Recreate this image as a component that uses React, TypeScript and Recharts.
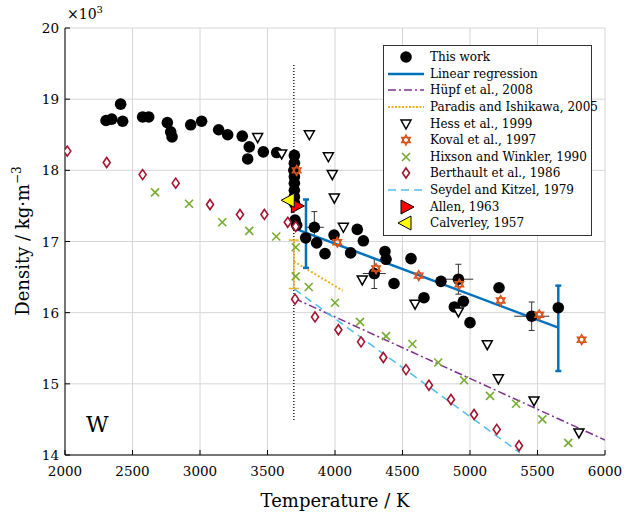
import React from 'react';
import { ComposedChart, Scatter, Line, XAxis, YAxis, CartesianGrid, ErrorBar, Legend } from 'recharts';

const FONT = 'DejaVu Serif';
const txt = { fontFamily: FONT };

// temperature (K) / density (x10^3 kg m^-3)
const thisWork = [
  { T: 2304, D: 18.7 }, { T: 2346, D: 18.72 }, { T: 2412, D: 18.93 }, { T: 2427, D: 18.69 },
  { T: 2575, D: 18.75 }, { T: 2620, D: 18.75 }, { T: 2758, D: 18.67 }, { T: 2783, D: 18.54 },
  { T: 2793, D: 18.47 }, { T: 2931, D: 18.64 }, { T: 3012, D: 18.69 }, { T: 3138, D: 18.57 },
  { T: 3205, D: 18.5 }, { T: 3313, D: 18.48 }, { T: 3365, D: 18.33 }, { T: 3353, D: 18.16 },
  { T: 3469, D: 18.26 }, { T: 3568, D: 18.25 }, { T: 3699, D: 18.21 }, { T: 3699, D: 18.1 },
  { T: 3695, D: 18.0 }, { T: 3699, D: 17.91 }, { T: 3699, D: 17.82 }, { T: 3699, D: 17.72 },
  { T: 3699, D: 17.63 }, { T: 3699, D: 17.54 }, { T: 3704, D: 17.3 }, { T: 3716, D: 17.23 },
  { T: 3783, D: 17.05 }, { T: 3864, D: 16.98 }, { T: 3926, D: 16.83 }, { T: 3993, D: 17.09 },
  { T: 4116, D: 16.84 }, { T: 4165, D: 17.17 }, { T: 4210, D: 17.01 }, { T: 4370, D: 16.86 },
  { T: 4378, D: 16.75 }, { T: 4437, D: 16.41 }, { T: 4563, D: 16.76 }, { T: 4659, D: 16.21 },
  { T: 4785, D: 16.44 }, { T: 4884, D: 16.08 }, { T: 4951, D: 16.16 }, { T: 5000, D: 15.86 },
  { T: 5215, D: 16.35 }, { T: 5654, D: 16.07 },
];
const thisWorkErr = [
  { T: 3847, D: 17.2, ex: 70, ey: 0.22 },
  { T: 4291, D: 16.55, ex: 85, ey: 0.21 },
  { T: 4914, D: 16.47, ex: 110, ey: 0.21 },
  { T: 5457, D: 15.95, ex: 130, ey: 0.2 },
];
const regression = [{ T: 3704, D: 17.18 }, { T: 5654, D: 15.79 }];
const regressionErr = [{ T: 3785, D: 17.11, e: 0.48 }, { T: 5654, D: 15.78, e: 0.6 }];
const hupf = [{ T: 3700, D: 16.2 }, { T: 6000, D: 14.21 }];
const paradis = [{ T: 3695, D: 16.72 }, { T: 4057, D: 16.31 }];
const paradisErr = [{ T: 3695, D: 16.68, e: 0.34 }];
const seydel = [{ T: 3700, D: 16.33 }, { T: 5370, D: 14.03 }];
const meltLine = [{ T: 3695, D: 19.48 }, { T: 3695, D: 14.49 }];
const hess = [
  { T: 3427, D: 18.46 }, { T: 3605, D: 18.23 }, { T: 3810, D: 18.5 }, { T: 3951, D: 18.19 },
  { T: 3980, D: 17.94 }, { T: 3995, D: 17.61 }, { T: 4062, D: 17.2 }, { T: 4202, D: 16.46 },
  { T: 4593, D: 16.12 }, { T: 4914, D: 16.01 }, { T: 5128, D: 15.55 }, { T: 5210, D: 15.07 },
  { T: 5474, D: 14.76 }, { T: 5807, D: 14.31 },
];
const koval = [
  { T: 3716, D: 18.0 }, { T: 4017, D: 16.99 }, { T: 4304, D: 16.62 }, { T: 4620, D: 16.52 },
  { T: 4921, D: 16.4 }, { T: 5227, D: 16.17 }, { T: 5513, D: 15.97 }, { T: 5827, D: 15.62 },
];
const hixson = [
  { T: 2667, D: 17.69 }, { T: 2919, D: 17.53 }, { T: 3165, D: 17.27 }, { T: 3365, D: 17.15 },
  { T: 3565, D: 17.07 }, { T: 3709, D: 16.92 }, { T: 3709, D: 16.51 }, { T: 3805, D: 16.36 },
  { T: 4000, D: 16.14 }, { T: 4185, D: 15.87 }, { T: 4378, D: 15.67 }, { T: 4573, D: 15.56 },
  { T: 4765, D: 15.3 }, { T: 4956, D: 15.05 }, { T: 5148, D: 14.83 }, { T: 5341, D: 14.72 },
  { T: 5536, D: 14.5 }, { T: 5728, D: 14.17 },
];
const berthault = [
  { T: 2017, D: 18.27 }, { T: 2309, D: 18.11 }, { T: 2575, D: 17.94 }, { T: 2820, D: 17.82 },
  { T: 3074, D: 17.52 }, { T: 3296, D: 17.38 }, { T: 3477, D: 17.38 }, { T: 3650, D: 17.27 },
  { T: 3709, D: 17.21 }, { T: 3704, D: 16.19 }, { T: 3852, D: 15.94 }, { T: 4025, D: 15.76 },
  { T: 4193, D: 15.59 }, { T: 4358, D: 15.37 }, { T: 4526, D: 15.2 }, { T: 4696, D: 14.98 },
  { T: 4859, D: 14.78 }, { T: 5030, D: 14.57 }, { T: 5198, D: 14.36 }, { T: 5363, D: 14.13 },
];
const allen = [{ T: 3714, D: 17.5 }];
const calverley = [{ T: 3661, D: 17.58 }];

const xTicks = [2000, 2500, 3000, 3500, 4000, 4500, 5000, 5500, 6000];
const yTicks = [14, 15, 16, 17, 18, 19, 20];

const legendNames = [
  'This work', 'Linear regression', 'Hüpf et al., 2008', 'Paradis and Ishikawa, 2005',
  'Hess et al., 1999', 'Koval et al., 1997', 'Hixson and Winkler, 1990', 'Berthault et al., 1986',
  'Seydel and Kitzel, 1979', 'Allen, 1963', 'Calverley, 1957',
];

// marker shapes
const dot = (cx: number, cy: number) => <circle cx={cx} cy={cy} r={5.8} fill="#000" />;
const triDown = (cx: number, cy: number) => (
  <polygon points={`${cx - 5},${cy - 4} ${cx + 5},${cy - 4} ${cx},${cy + 5}`} fill="#fff" stroke="#000" strokeWidth={1.5} />
);
const star = (cx: number, cy: number) => (
  <g fill="none" stroke="#D95319" strokeWidth={1.4}>
    <polygon points={`${cx},${cy - 5} ${cx + 4.3},${cy + 2.5} ${cx - 4.3},${cy + 2.5}`} />
    <polygon points={`${cx},${cy + 5} ${cx + 4.3},${cy - 2.5} ${cx - 4.3},${cy - 2.5}`} />
  </g>
);
const cross = (cx: number, cy: number) => (
  <g stroke="#77AC30" strokeWidth={1.6}>
    <line x1={cx - 4} y1={cy - 4} x2={cx + 4} y2={cy + 4} />
    <line x1={cx - 4} y1={cy + 4} x2={cx + 4} y2={cy - 4} />
  </g>
);
const diamond = (cx: number, cy: number) => (
  <polygon points={`${cx},${cy - 5} ${cx + 3.5},${cy} ${cx},${cy + 5} ${cx - 3.5},${cy}`} fill="#fff" stroke="#A2142F" strokeWidth={1.6} />
);
const triRight = (cx: number, cy: number) => (
  <polygon points={`${cx - 5},${cy - 7} ${cx + 8},${cy} ${cx - 5},${cy + 7}`} fill="#FF0000" stroke="#000" strokeWidth={1} />
);
const triLeft = (cx: number, cy: number) => (
  <polygon points={`${cx + 5},${cy - 7} ${cx - 8},${cy} ${cx + 5},${cy + 7}`} fill="#FFFF00" stroke="#000" strokeWidth={1} />
);
const shape = (fn: (cx: number, cy: number) => React.ReactElement) => (p: any) => fn(p.cx, p.cy);
const noShape = () => <g />;

const legendIcons = [
  dot(20, 8),
  <line x1={2} y1={8} x2={38} y2={8} stroke="#0072BD" strokeWidth={2.5} />,
  <line x1={2} y1={8} x2={38} y2={8} stroke="#7E2F8E" strokeWidth={1.5} strokeDasharray="8 3 2 3" />,
  <line x1={2} y1={8} x2={38} y2={8} stroke="#EDB120" strokeWidth={2} strokeDasharray="2 1.5" />,
  triDown(20, 8),
  star(20, 8),
  cross(20, 8),
  diamond(20, 8),
  <line x1={2} y1={8} x2={38} y2={8} stroke="#4DBEEE" strokeWidth={1.5} strokeDasharray="8 5" />,
  triRight(20, 8),
  triLeft(20, 8),
];

const renderLegend = () => (
  <div style={{ border: '1px solid #333', background: '#fff', padding: '3px 0 3px 2px', fontFamily: FONT, fontSize: 12, width: 209, whiteSpace: 'nowrap', textAlign: 'left', boxSizing: 'border-box' }}>
    {legendNames.map((n, i) => (
      <div key={n} style={{ display: 'flex', alignItems: 'center', height: 16.6 }}>
        <svg width={42} height={16} style={{ marginRight: 2, flexShrink: 0 }}>{legendIcons[i]}</svg>
        <span>{n}</span>
      </div>
    ))}
  </div>
);

const BottomTick = (p: any) => (
  <g>
    <line x1={p.x} y1={p.y} x2={p.x} y2={p.y - 5} stroke="#000" />
    <text x={p.x} y={p.y + 21} textAnchor="middle" fontSize={13.5} style={txt} fill="#000">{p.payload.value}</text>
  </g>
);
const TopTick = (p: any) => <line x1={p.x} y1={p.y} x2={p.x} y2={p.y + 5} stroke="#000" />;
const LeftTick = (p: any) => (
  <g>
    <line x1={p.x} y1={p.y} x2={p.x + 5} y2={p.y} stroke="#000" />
    <text x={p.x - 6} y={p.y + 5} textAnchor="end" fontSize={13.5} style={txt} fill="#000">{p.payload.value}</text>
  </g>
);
const RightTick = (p: any) => <line x1={p.x} y1={p.y} x2={p.x - 5} y2={p.y} stroke="#000" />;

export default function App() {
  return (
    <div style={{ position: 'absolute', left: 0, top: 0, background: '#fff', fontFamily: FONT }}>
      <ComposedChart width={627} height={518} margin={{ top: 28, right: 22, left: 5, bottom: 0 }} style={txt}>
        <CartesianGrid stroke="#d6d6d6" strokeWidth={1} />
        <XAxis dataKey="T" type="number" domain={[2000, 6000]} ticks={xTicks} allowDataOverflow
          height={63} tickSize={0} tickMargin={0} tick={BottomTick} stroke="#000" />
        <XAxis xAxisId="top" orientation="top" dataKey="T" type="number" domain={[2000, 6000]} ticks={xTicks}
          allowDataOverflow height={0} tickSize={0} tickMargin={0} tick={TopTick} stroke="#000" />
        <YAxis dataKey="D" type="number" domain={[14, 20]} ticks={yTicks} allowDataOverflow
          width={60} tickSize={0} tickMargin={0} tick={LeftTick} stroke="#000" />
        <YAxis yAxisId="right" orientation="right" dataKey="D" type="number" domain={[14, 20]} ticks={yTicks}
          allowDataOverflow width={0} tickSize={0} tickMargin={0} tick={RightTick} stroke="#000" />

        <Line data={meltLine} dataKey="D" stroke="#000" strokeWidth={1.3} strokeDasharray="1 2" dot={false} isAnimationActive={false} />
        <Scatter data={thisWork} dataKey="D" shape={shape(dot)} isAnimationActive={false} />
        <Scatter data={thisWorkErr} dataKey="D" shape={shape(dot)} isAnimationActive={false}>
          <ErrorBar dataKey="ex" direction="x" width={0} stroke="#333" strokeWidth={1} />
          <ErrorBar dataKey="ey" direction="y" width={3} stroke="#333" strokeWidth={1} />
        </Scatter>
        <Line data={hupf} dataKey="D" stroke="#7E2F8E" strokeWidth={1.5} strokeDasharray="8 3 2 3" dot={false} isAnimationActive={false} />
        <Line data={paradis} dataKey="D" stroke="#EDB120" strokeWidth={2} strokeDasharray="2 2" dot={false} isAnimationActive={false} />
        <Scatter data={paradisErr} dataKey="D" shape={noShape} isAnimationActive={false}>
          <ErrorBar dataKey="e" direction="y" width={5} stroke="#EDB120" strokeWidth={1.5} />
        </Scatter>
        <Line data={seydel} dataKey="D" stroke="#4DBEEE" strokeWidth={1.5} strokeDasharray="8 5" dot={false} isAnimationActive={false} />
        <Scatter data={hess} dataKey="D" shape={shape(triDown)} isAnimationActive={false} />
        <Scatter data={koval} dataKey="D" shape={shape(star)} isAnimationActive={false} />
        <Scatter data={hixson} dataKey="D" shape={shape(cross)} isAnimationActive={false} />
        <Scatter data={berthault} dataKey="D" shape={shape(diamond)} isAnimationActive={false} />
        <Line data={regression} dataKey="D" stroke="#0072BD" strokeWidth={2.5} dot={false} isAnimationActive={false} />
        <Scatter data={regressionErr} dataKey="D" shape={noShape} isAnimationActive={false}>
          <ErrorBar dataKey="e" direction="y" width={3} stroke="#0072BD" strokeWidth={2.5} />
        </Scatter>
        <Scatter data={allen} dataKey="D" shape={shape(triRight)} isAnimationActive={false} />
        <Scatter data={calverley} dataKey="D" shape={shape(triLeft)} isAnimationActive={false} />

        <Legend layout="vertical" align="center" verticalAlign="middle" content={renderLegend}
          wrapperStyle={{ position: 'absolute', left: 383, top: 45, width: 209, height: 'auto', textAlign: 'left' }} />

        <text x={67} y={19} fontSize={14} style={txt} fill="#000">×10<tspan dy={-6} fontSize={10}>3</tspan></text>
        <text x={86} y={432} fontSize={22} style={txt} fill="#000">W</text>
        <text x={335} y={507} textAnchor="middle" fontSize={18} style={txt} fill="#000">Temperature / K</text>
        <text transform="translate(29,241) rotate(-90)" textAnchor="middle" fontSize={18} style={txt} fill="#000">
          Density / kg·m<tspan dy={-8} fontSize={12}>−3</tspan>
        </text>
      </ComposedChart>
    </div>
  );
}
